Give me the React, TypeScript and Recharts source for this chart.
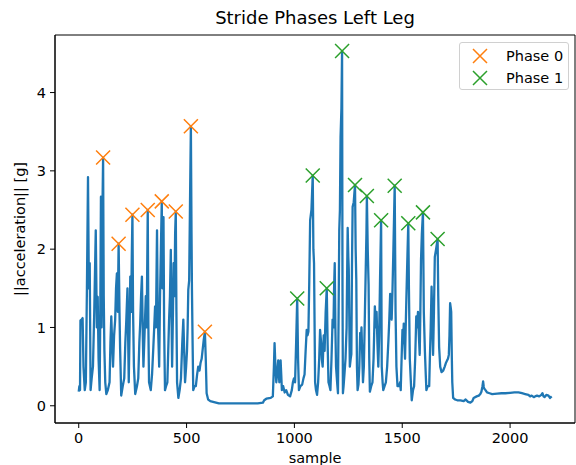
import React from 'react';
import { ComposedChart, Line, Scatter, XAxis, YAxis, ReferenceArea } from 'recharts';

const FONT = '"DejaVu Sans", sans-serif';
const BLUE = '#1f77b4';
const ORANGE = '#ff7f0e';
const GREEN = '#2ca02c';

const TITLE = 'Stride Phases Left Leg';
const X_LABEL = 'sample';
const Y_LABEL = '||acceleration|| [g]';
const SERIES_NAMES = ['Phase 0', 'Phase 1'];
const X_TICKS = [0, 500, 1000, 1500, 2000];
const Y_TICKS = [0, 1, 2, 3, 4];

// [sample, |acceleration|]
const SIGNAL_RAW: [number, number][] = [
  [0,0.18],[3,0.25],[6,0.2],[8,1.09],[13,1.1],[18,1.12],[22,0.5],[28,0.2],[33,0.3],[38,1.5],[43,2.92],[47,1.5],[51,1.82],[55,0.2],[60,0.35],[66,0.5],[72,1.2],[79,2.24],[84,1.0],[88,1.39],[92,0.6],[97,0.2],[100,1.2],[103,2.67],[106,1.0],[110,2.5],[113,3.17],[116,1.4],[119,0.71],[123,0.3],[128,0.15],[135,0.2],[143,0.3],[147,0.8],[151,1.14],[155,0.8],[159,0.5],[164,0.9],[169,1.1],[173,1.5],[177,1.69],[181,1.2],[185,2.07],[189,1.2],[192,0.72],[197,0.13],[204,0.25],[211,0.35],[216,0.8],[220,1.05],[226,1.5],[229,0.9],[232,0.3],[236,1.0],[239,1.65],[243,1.2],[246,1.9],[249,2.44],[252,1.2],[256,0.5],[262,0.15],[270,0.25],[276,0.35],[281,0.8],[285,1.05],[289,1.4],[293,1.65],[297,0.9],[300,0.5],[305,0.9],[311,1.4],[315,1.0],[318,1.9],[320,2.5],[323,1.0],[326,0.3],[334,0.2],[340,0.4],[346,0.75],[350,1.0],[354,1.27],[358,1.0],[363,2.24],[366,1.3],[369,0.9],[373,0.5],[377,1.4],[381,2.0],[385,2.61],[388,1.5],[390,2.2],[393,2.41],[396,1.0],[400,0.2],[405,0.25],[411,0.3],[415,0.7],[419,1.1],[423,1.4],[427,1.99],[430,1.2],[433,0.5],[437,1.2],[440,1.82],[444,1.4],[447,2.2],[450,2.48],[453,1.2],[456,0.3],[462,0.1],[468,0.2],[474,0.35],[480,0.8],[485,1.1],[489,0.7],[493,0.3],[498,0.5],[502,0.7],[505,1.0],[508,1.48],[512,1.6],[516,2.6],[520,3.57],[523,2.2],[525,1.48],[528,0.8],[531,0.2],[537,0.25],[543,0.25],[549,0.4],[554,0.5],[560,0.45],[565,0.55],[570,0.6],[574,0.7],[580,0.85],[585,0.945],[589,0.6],[593,0.16],[600,0.08],[610,0.06],[623,0.05],[650,0.03],[700,0.03],[750,0.03],[800,0.03],[830,0.03],[854,0.04],[860,0.07],[870,0.09],[890,0.1],[900,0.12],[905,0.5],[908,0.8],[912,0.5],[916,0.3],[920,0.4],[925,0.58],[930,0.3],[936,0.58],[939,0.4],[942,0.2],[948,0.25],[955,0.17],[962,0.2],[970,0.14],[980,0.12],[988,0.2],[993,0.3],[998,0.35],[1003,0.3],[1008,0.8],[1013,1.37],[1017,0.6],[1021,0.2],[1028,0.25],[1036,0.27],[1042,0.35],[1047,0.4],[1052,0.7],[1057,0.97],[1061,0.9],[1065,0.95],[1069,1.6],[1073,2.37],[1079,2.5],[1085,2.94],[1088,2.0],[1091,1.82],[1094,0.9],[1096,0.3],[1100,0.2],[1105,0.14],[1110,0.3],[1115,0.6],[1119,0.97],[1124,0.8],[1127,0.6],[1131,0.5],[1136,0.9],[1140,0.7],[1145,1.2],[1150,1.5],[1154,0.8],[1158,0.3],[1163,0.25],[1167,0.2],[1172,0.6],[1177,1.1],[1181,1.0],[1184,1.5],[1187,1.82],[1190,1.0],[1193,0.5],[1198,0.3],[1202,0.16],[1205,1.2],[1208,2.24],[1211,2.5],[1214,3.43],[1218,3.8],[1221,4.53],[1223,1.5],[1225,0.16],[1228,0.25],[1232,0.4],[1237,0.6],[1242,1.0],[1245,1.8],[1247,2.27],[1250,1.9],[1252,1.75],[1255,1.0],[1257,0.5],[1261,0.6],[1264,0.66],[1267,1.8],[1270,2.54],[1275,2.6],[1281,2.82],[1284,2.0],[1287,1.6],[1290,0.5],[1293,0.2],[1297,0.27],[1301,0.5],[1305,0.93],[1308,0.8],[1311,1.0],[1315,0.6],[1318,0.3],[1322,0.5],[1327,1.2],[1331,1.78],[1334,2.2],[1336,2.68],[1340,2.0],[1344,1.55],[1347,0.6],[1350,0.18],[1356,0.25],[1362,0.3],[1367,0.6],[1373,1.27],[1377,1.0],[1381,1.2],[1385,0.8],[1389,0.5],[1393,0.9],[1397,1.6],[1402,2.37],[1405,0.5],[1409,0.3],[1412,0.2],[1418,0.25],[1424,0.3],[1430,0.5],[1436,0.84],[1440,1.1],[1444,1.43],[1447,1.2],[1451,1.1],[1455,1.5],[1459,2.0],[1462,2.4],[1465,2.81],[1469,1.2],[1473,0.5],[1478,0.25],[1485,0.25],[1490,0.3],[1493,0.2],[1497,0.6],[1501,0.97],[1504,0.8],[1507,1.05],[1510,0.8],[1513,0.6],[1516,1.0],[1519,1.35],[1523,1.8],[1528,2.33],[1531,1.5],[1535,0.6],[1540,0.3],[1544,0.07],[1550,0.2],[1555,0.25],[1560,0.6],[1565,1.14],[1569,1.0],[1573,1.2],[1577,0.9],[1581,0.65],[1584,1.2],[1587,1.86],[1591,2.2],[1596,2.47],[1600,1.2],[1605,0.7],[1609,0.4],[1612,0.2],[1618,0.25],[1625,0.25],[1628,0.6],[1632,1.0],[1636,1.52],[1640,1.0],[1643,0.65],[1647,1.2],[1651,1.9],[1657,2.0],[1664,2.13],[1667,1.4],[1671,0.75],[1676,0.5],[1682,0.43],[1690,0.45],[1697,0.5],[1703,0.55],[1708,0.58],[1712,0.6],[1716,0.65],[1719,0.9],[1722,1.31],[1725,1.25],[1727,1.2],[1730,0.6],[1732,0.3],[1736,0.1],[1745,0.08],[1755,0.07],[1770,0.07],[1785,0.06],[1794,0.08],[1805,0.05],[1816,0.04],[1825,0.06],[1831,0.1],[1845,0.12],[1855,0.13],[1862,0.15],[1867,0.18],[1872,0.25],[1875,0.31],[1878,0.24],[1880,0.22],[1886,0.2],[1893,0.17],[1905,0.16],[1917,0.15],[1940,0.155],[1960,0.16],[1978,0.16],[2000,0.165],[2020,0.17],[2039,0.17],[2055,0.16],[2070,0.15],[2085,0.14],[2093,0.12],[2100,0.13],[2110,0.11],[2116,0.12],[2125,0.13],[2135,0.12],[2145,0.14],[2150,0.16],[2155,0.12],[2160,0.11],[2168,0.14],[2178,0.13],[2185,0.1],[2193,0.12]
];

const PHASE0_RAW: [number, number][] = [
  [113,3.17],[185,2.07],[249,2.44],[320,2.5],[385,2.61],[450,2.48],[520,3.57],[585,0.945]
];

const PHASE1_RAW: [number, number][] = [
  [1013,1.37],[1085,2.94],[1150,1.5],[1221,4.53],[1281,2.82],[1336,2.68],[1402,2.37],[1465,2.81],[1528,2.33],[1596,2.47],[1664,2.13]
];

const signal = SIGNAL_RAW.map(([s, v]) => ({ s, v }));
const phase0 = PHASE0_RAW.map(([s, v]) => ({ s, v }));
const phase1 = PHASE1_RAW.map(([s, v]) => ({ s, v }));

const X_DOMAIN: [number, number] = [-110, 2301];
const Y_DOMAIN: [number, number] = [-0.22, 4.735];

const makeX = (color: string) => (props: any) => {
  const { cx, cy } = props;
  if (cx == null || cy == null) return <g />;
  const r = 7;
  return (
    <path
      d={`M${cx - r},${cy - r}L${cx + r},${cy + r}M${cx - r},${cy + r}L${cx + r},${cy - r}`}
      stroke={color}
      strokeWidth={1.5}
      fill="none"
    />
  );
};

const tickStyle = { fontFamily: FONT, fontSize: 14.5, fill: '#000' };

export default function App() {
  return (
    <div style={{ position: 'fixed', left: 0, top: 0, width: 576, height: 465, background: '#fff' }}>
      <div
        style={{
          position: 'absolute', left: 55, width: 520, top: 7, textAlign: 'center',
          fontFamily: FONT, fontSize: 18, color: '#000', lineHeight: '21px',
        }}
      >
        {TITLE}
      </div>
      <ComposedChart
        width={576}
        height={465}
        margin={{ top: 35, right: 1, bottom: 0, left: 0 }}
      >
        <XAxis
          dataKey="s"
          type="number"
          domain={X_DOMAIN}
          ticks={X_TICKS}
          allowDataOverflow
          height={42}
          tickSize={5}
          tickMargin={5}
          tick={tickStyle}
          stroke="#000"
          tickLine={{ stroke: '#000' }}
          axisLine={{ stroke: '#000' }}
          label={(p: any) => {
            const vb = p.viewBox || { x: 55, width: 520, y: 423 };
            return (
              <text x={vb.x + vb.width / 2} y={463} textAnchor="middle" fontFamily={FONT} fontSize={14.5} fill="#000">
                {X_LABEL}
              </text>
            );
          }}
        />
        <YAxis
          type="number"
          domain={Y_DOMAIN}
          ticks={Y_TICKS}
          allowDataOverflow
          width={55}
          tickSize={5}
          tickMargin={4}
          tick={tickStyle}
          stroke="#000"
          tickLine={{ stroke: '#000' }}
          axisLine={{ stroke: '#000' }}
          label={(p: any) => {
            const vb = p.viewBox || { y: 35, height: 388 };
            const cy = vb.y + vb.height / 2;
            return (
              <text
                x={20}
                y={cy}
                transform={`rotate(-90, 20, ${cy})`}
                textAnchor="middle"
                dominantBaseline="central"
                fontFamily={FONT}
                fontSize={14.5}
                fill="#000"
              >
                {Y_LABEL}
              </text>
            );
          }}
        />
        <ReferenceArea
          x1={X_DOMAIN[0]}
          x2={X_DOMAIN[1]}
          y1={Y_DOMAIN[0]}
          y2={Y_DOMAIN[1]}
          fill="none"
          stroke="#000"
          strokeWidth={1}
          ifOverflow="visible"
        />
        <Line
          data={signal}
          dataKey="v"
          type="linear"
          stroke={BLUE}
          strokeWidth={2.3}
          dot={false}
          activeDot={false}
          isAnimationActive={false}
          strokeLinejoin="round"
        />
        <Scatter
          name={SERIES_NAMES[0]}
          data={phase0}
          dataKey="v"
          shape={makeX(ORANGE)}
          isAnimationActive={false}
        />
        <Scatter
          name={SERIES_NAMES[1]}
          data={phase1}
          dataKey="v"
          shape={makeX(GREEN)}
          isAnimationActive={false}
        />
      </ComposedChart>
      <div
        style={{
          position: 'absolute', left: 459, top: 42, width: 108, height: 46,
          border: '1px solid #d0d0d0', borderRadius: 3, background: 'rgba(255,255,255,0.8)',
          fontFamily: FONT, fontSize: 14.5, color: '#000',
        }}
      >
        {[{ name: SERIES_NAMES[0], color: ORANGE }, { name: SERIES_NAMES[1], color: GREEN }].map((it, i) => (
          <div key={it.name} style={{ position: 'absolute', left: 0, top: 3 + i * 22, height: 20, display: 'flex', alignItems: 'center' }}>
            <svg width={42} height={20} style={{ display: 'block' }}>
              <path d="M13,3L27,17M13,17L27,3" stroke={it.color} strokeWidth={1.5} fill="none" />
            </svg>
            <span style={{ marginLeft: 4, whiteSpace: 'nowrap' }}>{it.name}</span>
          </div>
        ))}
      </div>
    </div>
  );
}
